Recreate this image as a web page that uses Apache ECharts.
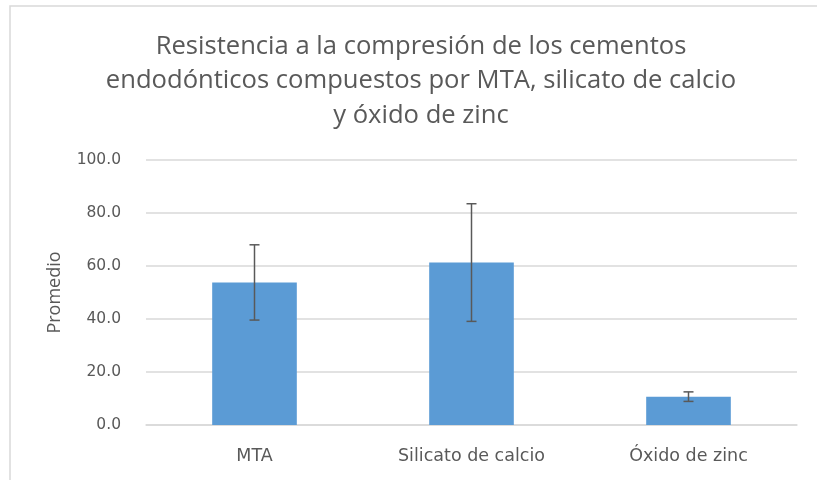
<!DOCTYPE html>
<html>
<head>
<meta charset="utf-8">
<script src="https://cdn.jsdelivr.net/npm/echarts@6/dist/echarts.min.js"></script>
<style>
  html, body { margin: 0; padding: 0; background: #fff; }
  #chart { width: 817px; height: 480px; }
</style>
</head>
<body>
<div id="chart"></div>
<script>
// datos
var categories = ['MTA', 'Silicato de calcio', 'Óxido de zinc'];
var promedio = [53.8, 61.3, 10.7];
var desviacion = [14.2, 22.2, 1.8];
var yTicks = [0, 20, 40, 60, 80, 100];

var chart = echarts.init(document.getElementById('chart'));

var errData = categories.map(function (c, i) {
  return [i, promedio[i] - desviacion[i], promedio[i] + desviacion[i]];
});

var option = {
  backgroundColor: '#fff',
  animation: false,
  title: {
    text: 'Resistencia a la compresión de los cementos\nendodónticos compuestos por MTA, silicato de calcio\ny óxido de zinc',
    left: 416,
    top: 24,
    textAlign: 'center',
    textStyle: {
      fontFamily: 'Open Sans',
      fontWeight: 'normal',
      fontSize: 25.6,
      color: '#595959',
      lineHeight: 34.5
    }
  },
  graphic: [{
    type: 'rect',
    shape: { x: 10, y: 6, width: 830, height: 500 },
    style: { fill: 'none', stroke: '#d9d9d9', lineWidth: 1.5 },
    silent: true
  }],
  grid: { left: 146, right: 20, top: 160, bottom: 55 },
  xAxis: {
    type: 'category',
    data: categories,
    axisTick: { show: false },
    axisLine: { lineStyle: { color: '#d9d9d9', width: 1.5 } },
    axisLabel: {
      fontFamily: 'DejaVu Sans',
      fontSize: 17.5,
      color: '#595959',
      margin: 22
    }
  },
  yAxis: {
    type: 'value',
    min: yTicks[0],
    max: yTicks[yTicks.length - 1],
    interval: 20,
    name: 'Promedio',
    nameLocation: 'middle',
    nameGap: 82,
    nameTextStyle: { fontFamily: 'Open Sans', fontSize: 18, color: '#595959' },
    axisLine: { show: false },
    axisTick: { show: false },
    axisLabel: {
      fontFamily: 'DejaVu Sans',
      fontSize: 15.5,
      color: '#595959',
      margin: 25,
      formatter: function (v) { return v.toFixed(1); }
    },
    splitLine: { lineStyle: { color: '#d9d9d9', width: 1.5 } }
  },
  series: [{
    type: 'bar',
    data: promedio,
    barWidth: '39%',
    itemStyle: { color: '#5b9bd5' }
  }, {
    type: 'custom',
    data: errData,
    z: 10,
    renderItem: function (params, api) {
      var x = api.value(0);
      var lo = api.coord([x, api.value(1)]);
      var hi = api.coord([x, api.value(2)]);
      var hw = 5;
      var st = { stroke: '#595959', lineWidth: 1.5 };
      return {
        type: 'group',
        children: [
          { type: 'line', shape: { x1: hi[0], y1: hi[1], x2: lo[0], y2: lo[1] }, style: st },
          { type: 'line', shape: { x1: hi[0] - hw, y1: hi[1], x2: hi[0] + hw, y2: hi[1] }, style: st },
          { type: 'line', shape: { x1: lo[0] - hw, y1: lo[1], x2: lo[0] + hw, y2: lo[1] }, style: st }
        ]
      };
    }
  }]
};

chart.setOption(option);
</script>
</body>
</html>
